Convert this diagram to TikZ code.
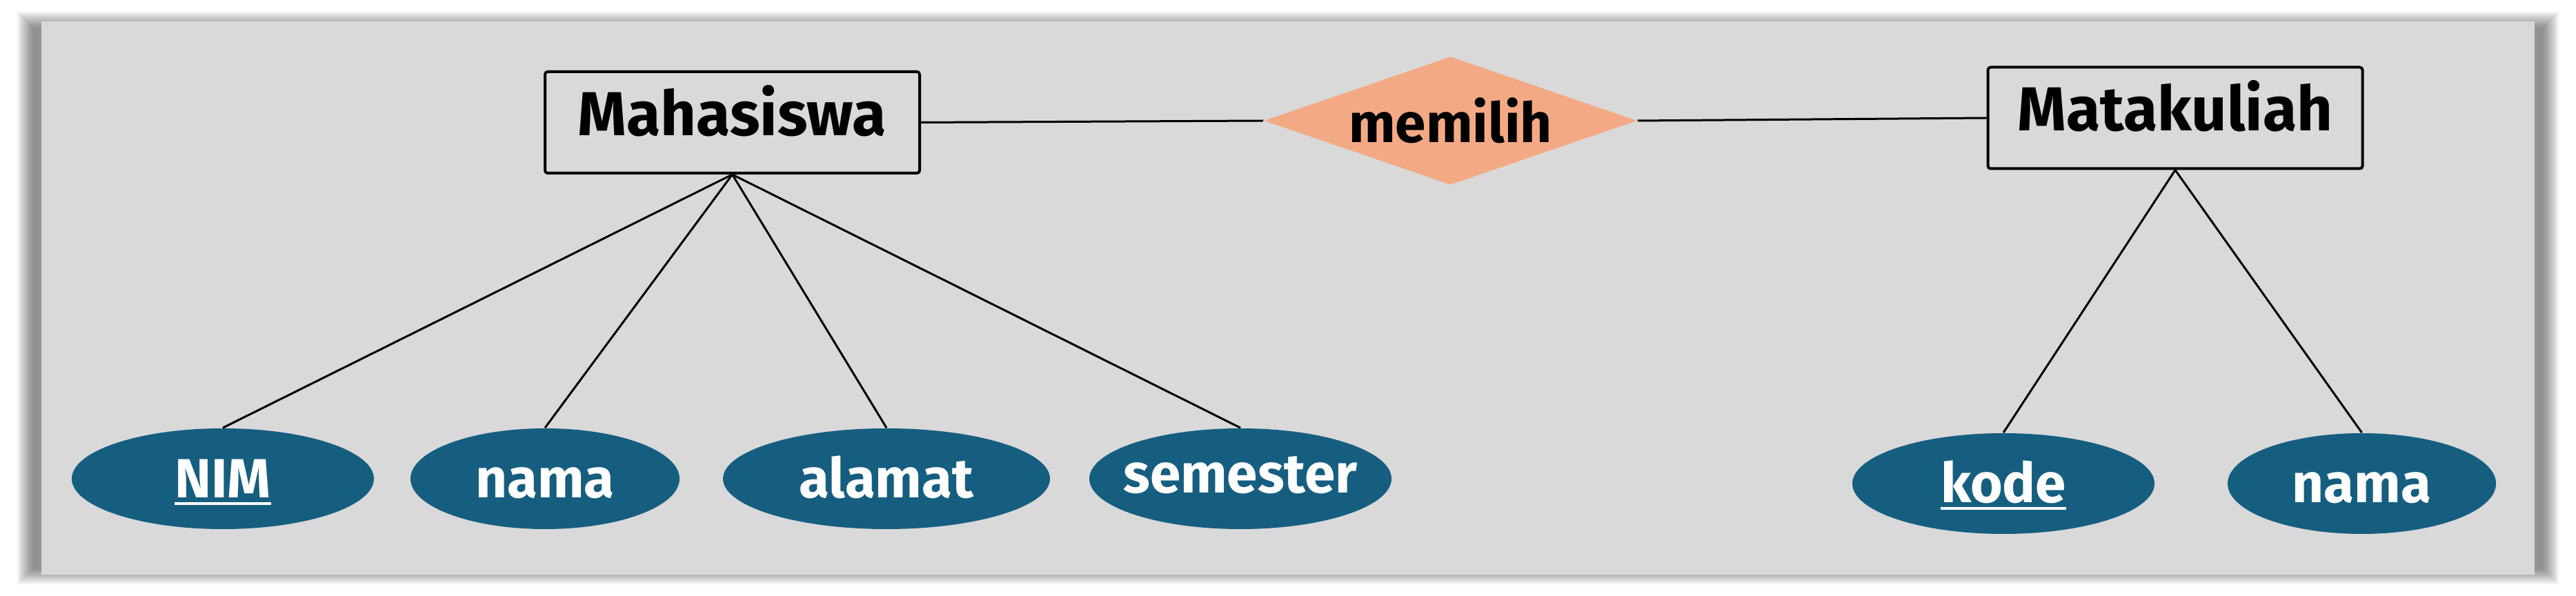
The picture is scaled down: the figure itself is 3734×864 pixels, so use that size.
\documentclass[tikz,border=0pt]{standalone}
\usepackage{fontspec}
\setmainfont{Fira Sans}
\usetikzlibrary{shapes.geometric}
\definecolor{panelgray}{HTML}{D9D9D9}
\definecolor{relfill}{RGB}{243,170,132}
\definecolor{attrfill}{RGB}{22,94,128}
\newcommand\keyul[1]{\setbox0\hbox{#1}\rlap{\rule[-2.5pt]{\wd0}{1pt}}\box0}
\newcommand\zw[1]{\makebox[0pt]{#1}}
\begin{document}
\begin{tikzpicture}[x=0.25pt,y=-0.25pt,
  entity/.style={draw=black, line width=1pt, rounded corners=1pt, rectangle, inner sep=0pt,
    minimum width=135.75pt, minimum height=36.75pt,
    font=\fontsize{22.5}{27}\selectfont\bfseries, text height=15.5pt, text depth=6pt},
  relation/.style={diamond, fill=relfill, inner sep=0pt, shape aspect=2.9,
    minimum width=135.25pt, minimum height=46.5pt,
    font=\fontsize{20}{24}\selectfont\bfseries},
  attribute/.style={ellipse, fill=attrfill, text=white, inner sep=0pt, minimum height=36.5pt,
    font=\fontsize{20}{24}\selectfont\bfseries, text height=13.8pt, text depth=0pt},
  link/.style={line width=0.75pt, draw=black}]
\useasboundingbox (0,0) rectangle (3734,864);
\fill[white] (0,0) rectangle (3734,864);
% soft shadow around the panel
\foreach \k in {0,...,11}{
  \fill[black, opacity=0.042] ({60-13-2*\k},{31+8-2*\k}) rectangle ({3674+13+2*\k},{833-8+2*\k});
}
\fill[panelgray] (60,31) rectangle (3674,833);

\node[entity] (mhs) at (1061.5,177.5) {Mahasiswa};
\node[relation] (rel) at (2102.5,175) {memilih};
\node[entity] (mk) at (3153,171) {Matakuliah};

\node[attribute, minimum width=109.5pt] (nim) at (323,694) {\zw{\keyul{NIM}}};
\node[attribute, minimum width=97.5pt] (nama) at (790,694) {\zw{nama}};
\node[attribute, minimum width=118.5pt] (alamat) at (1285,694) {\zw{alamat}};
\node[attribute, minimum width=109.5pt, text depth=3.5pt] (sem) at (1798,694) {\zw{semester}};
\node[attribute, minimum width=109.5pt] (kode) at (2904,701) {\zw{\keyul{kode}}};
\node[attribute, minimum width=97.25pt] (nama2) at (3423.5,701) {\zw{nama}};

\draw[link] (mhs.east) -- (rel.west);
\draw[link] (rel.east) -- (mk.west);
\draw[link] (mhs.south) -- (nim.north);
\draw[link] (mhs.south) -- (nama.north);
\draw[link] (mhs.south) -- (alamat.north);
\draw[link] (mhs.south) -- (sem.north);
\draw[link] (mk.south) -- (kode.north);
\draw[link] (mk.south) -- (nama2.north);
\end{tikzpicture}
\end{document}
